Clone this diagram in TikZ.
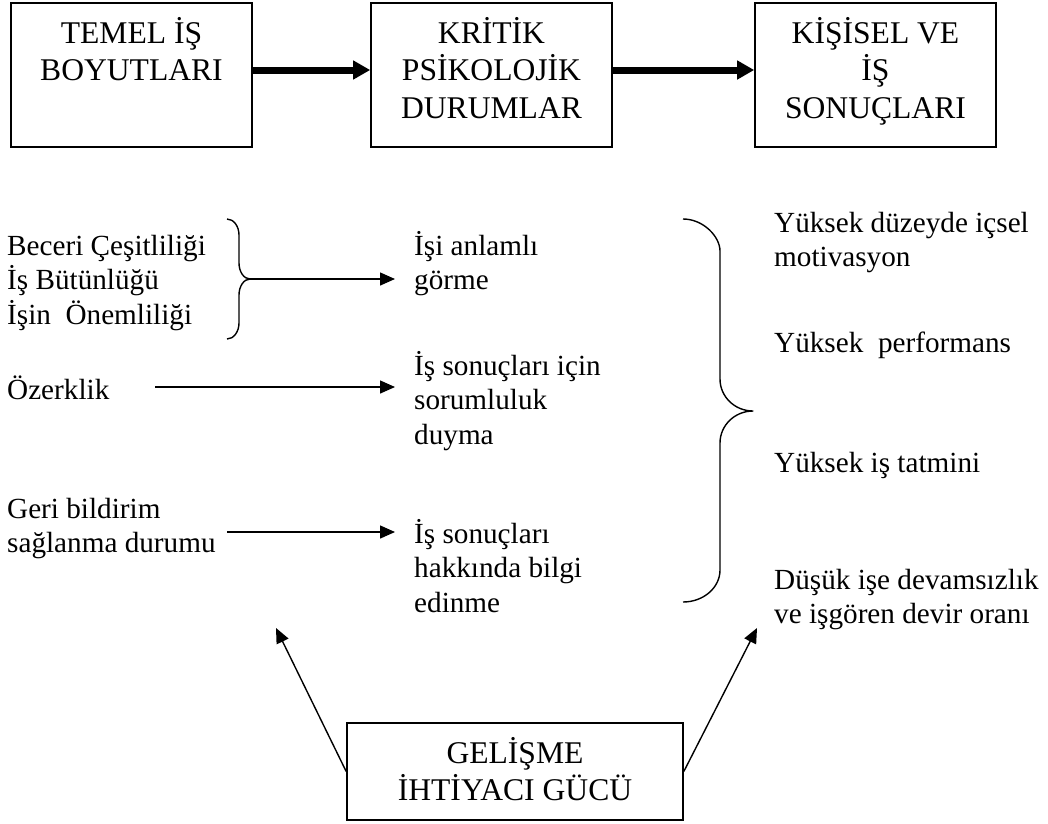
\documentclass[tikz,border=0pt]{standalone}
\usepackage{fontspec}
\setmainfont{Liberation Serif}
\usetikzlibrary{arrows.meta}
\newcommand{\bodyfont}{\fontsize{29.2pt}{34.5pt}\selectfont}
\newcommand{\titlefont}{\fontsize{31.6pt}{37.5pt}\selectfont}
\newcommand{\leftlines}[1]{\begin{tabular}[t]{@{}l@{}}#1\end{tabular}}
\newcommand{\midlines}[1]{\begin{tabular}[t]{@{}c@{}}#1\end{tabular}}

\begin{document}
\begin{tikzpicture}[x=1pt,y=-1pt,
  box/.style={draw, line width=1.6pt, inner sep=0pt},
  boxtitle/.style={inner sep=0pt, anchor=base, font=\titlefont},
  txt/.style={inner sep=0pt, anchor=base west, font=\bodyfont},
  bigarrow/.style={line width=7pt, -{Triangle[length=17pt,width=18pt]}},
  thinarrow/.style={line width=1.4pt, -{Triangle[length=15pt,width=13pt]}},
  bracepath/.style={line width=1.4pt, line join=round}]
\fill[white] (0,0) rectangle (1048,823);
\useasboundingbox (0,0) rectangle (1048,823);

% top row of boxes
\node[box, minimum width=241pt, minimum height=144pt] (b1) at (131.5,75) {};
\node[box, minimum width=241pt, minimum height=144pt] (b2) at (491.5,75) {};
\node[box, minimum width=241pt, minimum height=144pt] (b3) at (875.5,75) {};
\node[boxtitle] (t1) at (131.5,43) {\midlines{TEMEL İŞ\\BOYUTLARI}};
\node[boxtitle] (t2) at (491.5,43) {\midlines{KRİTİK\\PSİKOLOJİK\\DURUMLAR}};
\node[boxtitle] (t3) at (875.5,43) {\midlines{KİŞİSEL VE\\İŞ\\SONUÇLARI}};
\draw[bigarrow] ([yshift=5pt]b1.east) -- ([yshift=5pt]b2.west);
\draw[bigarrow] ([yshift=5pt]b2.east) -- ([yshift=5pt]b3.west);

% job dimensions
\node[txt] (d1) at (7,255) {\leftlines{Beceri Çeşitliliği\\İş Bütünlüğü\\İşin~ Önemliliği}};
\node[txt] (d2) at (7,399) {Özerklik};
\node[txt] (d3) at (7,518) {\leftlines{Geri bildirim\\sağlanma durumu}};

% psychological states
\node[txt] (p1) at (414,255) {\leftlines{İşi anlamlı\\görme}};
\node[txt] (p2) at (414,375) {\leftlines{İş sonuçları için\\sorumluluk\\duyma}};
\node[txt] (p3) at (414,543) {\leftlines{İş sonuçları\\hakkında bilgi\\edinme}};

% outcomes
\node[txt] (o1) at (774,232) {\leftlines{Yüksek düzeyde içsel\\motivasyon}};
\node[txt] (o2) at (774,352) {Yüksek~ performans};
\node[txt] (o3) at (774,472) {Yüksek iş tatmini};
\node[txt] (o4) at (774,589) {\leftlines{Düşük işe devamsızlık\\ve işgören devir oranı}};

% small brace grouping the first three dimensions
\draw[bracepath] (227,219) .. controls (233.6,219) and (239,226.2) .. (239,235)
  -- (239,263) .. controls (239,271.8) and (243.9,279) .. (250,279)
  .. controls (243.9,279) and (239,286.2) .. (239,295)
  -- (239,323) .. controls (239,331.8) and (233.6,339) .. (227,339);
\coordinate (lbtip) at (250,279);

% large brace before the outcomes
\draw[bracepath] (683,219) .. controls (703.4,219) and (720,236.7) .. (720,251)
  -- (720,379) .. controls (720,396.7) and (734.8,411) .. (753,411)
  .. controls (734.8,411) and (720,425.3) .. (720,443)
  -- (720,570) .. controls (720,587.7) and (703.4,602) .. (683,602);

% arrows to the psychological states
\coordinate (e1) at (395,279);
\coordinate (s2) at (155,387);
\coordinate (e2) at (395,387);
\coordinate (s3) at (227,532);
\coordinate (e3) at (395,532);
\draw[thinarrow] (lbtip) -- (e1);
\draw[thinarrow] (s2) -- (e2);
\draw[thinarrow] (s3) -- (e3);

% growth need strength
\node[box, minimum width=336pt, minimum height=97pt] (g) at (515,771.5) {};
\node[boxtitle] (gt) at (515,763) {\midlines{GELİŞME\\İHTİYACI GÜCÜ}};
\coordinate (gl) at (276,628);
\coordinate (gr) at (757,628);
\draw[thinarrow] (g.west) -- (gl);
\draw[thinarrow] (g.east) -- (gr);
\end{tikzpicture}
\end{document}
